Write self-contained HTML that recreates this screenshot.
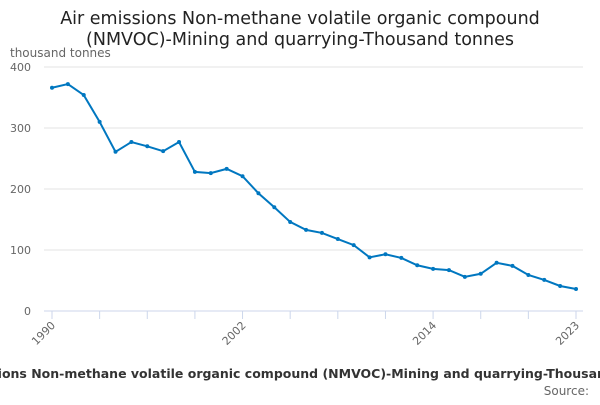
<!DOCTYPE html>
<html><head><meta charset="utf-8"><style>
body{margin:0;background:#fff;font-family:"Liberation Sans",sans-serif;}
svg text{font-family:"DejaVu Sans","Liberation Sans",sans-serif;}
</style></head><body>
<svg id="c" width="600" height="400">
<text x="300" y="24" text-anchor="middle" font-size="17.5" fill="#222">Air emissions Non-methane volatile organic compound</text>
<text x="300" y="45" text-anchor="middle" font-size="17.5" fill="#222">(NMVOC)-Mining and quarrying-Thousand tonnes</text>
<text x="10" y="57" font-size="12" fill="#666">thousand tonnes</text>
<g id="grid"></g><g id="xax"></g><g id="series"></g>
<text x="300" y="378" text-anchor="middle" font-size="12.5" font-weight="bold" fill="#333">Air emissions Non-methane volatile organic compound (NMVOC)-Mining and quarrying-Thousand tonnes</text>
<text x="589" y="395" text-anchor="end" font-size="12" fill="#666">Source:</text>
</svg>
<script>
const years=[1990,1991,1992,1993,1994,1995,1996,1997,1998,1999,2000,2001,2002,2003,2004,2005,2006,2007,2008,2009,2010,2011,2012,2013,2014,2015,2016,2017,2018,2019,2020,2021,2022,2023];
const values=[366,372,354,310,261,277,270,262,277,228,226,233,221,193,170,146,133,128,118,108,88,93,87,75,69,67,56,61,79,74,59,51,41,36];
const yTicks=[0,100,200,300,400];
const xLabels=[1990,2002,2014,2023];
const NS="http://www.w3.org/2000/svg";
const X=y=>52+(y-1990)*(576-52)/33;
const Y=v=>311-v*0.61;
function mk(t,a,p){const e=document.createElementNS(NS,t);for(const k in a)e.setAttribute(k,a[k]);p.appendChild(e);return e;}
const g=document.getElementById('grid'),xa=document.getElementById('xax'),s=document.getElementById('series');
yTicks.forEach(v=>{
 const l=mk('line',{x1:44,x2:583,y1:Y(v),y2:Y(v),stroke:v?'#e3e3e3':'#ccd6eb'},g);
 
 
 const t=mk('text',{x:31,y:Y(v)+4,'text-anchor':'end','font-size':11,fill:'#666'},g);t.textContent=v;
 
 
});
const tickYears=[];for(let y=1990;y<=2021;y+=3)tickYears.push(y);tickYears.push(2023);
tickYears.forEach(y=>{const l=mk('line',{x1:X(y),x2:X(y),y1:311,y2:319,stroke:'#ccd6eb'},xa);
 
 });
xLabels.forEach(y=>{const t=mk('text',{x:X(y)+4,y:326,'text-anchor':'end','font-size':11,fill:'#666',transform:`rotate(-45 ${X(y)+4} 326)`},xa);t.textContent=y;
 
 });
const p=mk('path',{d:values.map((v,i)=>(i?'L':'M')+X(years[i])+','+Y(v)).join(''),fill:'none',stroke:'#0077c0','stroke-width':2},s);


values.forEach((v,i)=>{const c=mk('circle',{cx:X(years[i]),cy:Y(v),r:2,fill:'#0077c0'},s);
 
 });
</script>
</body></html>
